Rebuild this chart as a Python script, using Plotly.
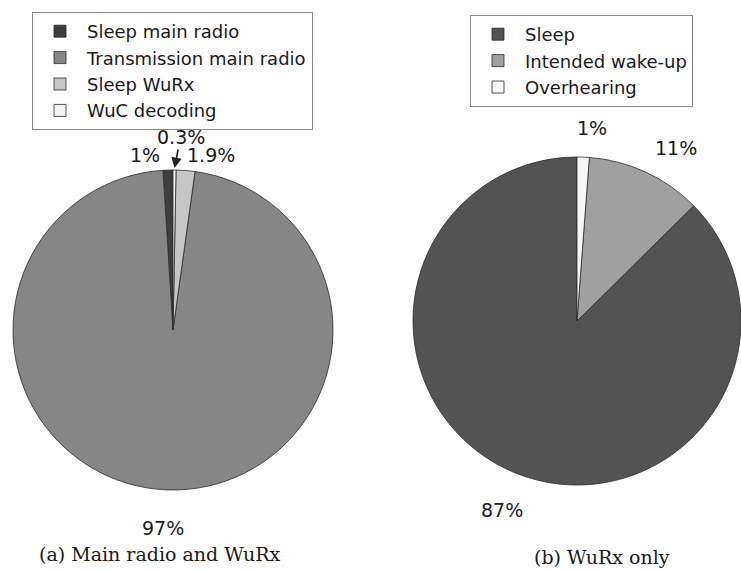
import math
import plotly.graph_objects as go

# ---------------- data ----------------
left_labels = ["Sleep main radio", "Transmission main radio", "Sleep WuRx", "WuC decoding"]
left_values = [1.0, 96.8, 1.9, 0.3]
left_text = ["1%", "97%", "1.9%", "0.3%"]

right_labels = ["Sleep", "Intended wake-up", "Overhearing"]
right_values = [87.4, 11.4, 1.2]
right_text = ["87%", "11%", "1%"]

captions = ["(a) Main radio and WuRx", "(b) WuRx only"]

# ---------------- style ----------------
W, H = 741, 571
left_colors = ["#3e3e3e", "#868686", "#c6c6c6", "#f4f4f4"]
right_colors = ["#535353", "#a0a0a0", "#f6f6f6"]
edge = dict(color="#2b2b2b", width=0.8)
sans = "DejaVu Sans, Verdana, sans-serif"
serif = "DejaVu Serif, serif"

# pie geometry in pixels (centre x, centre y, radius)
L = dict(cx=173, cy=330, r=160)
R = dict(cx=577, cy=321, r=164)


def px(x):
    return x / W


def py(y):
    return 1 - y / H


def label_pos(values, g, k=1.2):
    """MATLAB-like label anchor on the bisector of each slice, slices drawn
    counter-clockwise from 12 o'clock."""
    total = sum(values)
    cum = 0.0
    out = []
    for v in values:
        mid = (cum + v / 2) / total
        cum += v
        phi = 2 * math.pi * mid
        out.append((g["cx"] - k * g["r"] * math.sin(phi),
                    g["cy"] - k * g["r"] * math.cos(phi)))
    return out


def start_rotation(values):
    # plotly's counter-clockwise mode puts the first slice clockwise of the
    # rotation angle; shift so that the first slice starts at 12 o'clock
    return -360.0 * values[0] / sum(values)


fig = go.Figure()
fig.add_trace(go.Pie(
    labels=left_labels, values=left_values, sort=False,
    direction="counterclockwise", rotation=start_rotation(left_values),
    marker=dict(colors=left_colors, line=edge),
    textinfo="none", hoverinfo="label+percent",
    domain=dict(x=[px(L["cx"] - L["r"]), px(L["cx"] + L["r"])],
                y=[py(L["cy"] + L["r"]), py(L["cy"] - L["r"])]),
    legend="legend", showlegend=True,
))
fig.add_trace(go.Pie(
    labels=right_labels, values=right_values, sort=False,
    direction="counterclockwise", rotation=start_rotation(right_values),
    marker=dict(colors=right_colors, line=edge),
    textinfo="none", hoverinfo="label+percent",
    domain=dict(x=[px(R["cx"] - R["r"]), 1],
                y=[py(R["cy"] + R["r"]), py(R["cy"] - R["r"])]),
    legend="legend2", showlegend=True,
))

ann = []
lab_font = dict(family=sans, size=19, color="#1a1a1a")
centered = dict(xref="paper", yref="paper", xanchor="center", yanchor="middle")

# left pie labels
lpos = label_pos(left_values, L, 1.22)
tips = label_pos(left_values, L, 1.0)
nudges_left = {0: (-22, 20), 1: (-3, 3), 2: (23, 20)}
for i, t in enumerate(left_text):
    if i == 3:
        # tiny slice: label with an arrow pointing at the slice
        tx, ty = tips[i]
        ann.append(dict(x=px(tx), y=py(ty - 2), text=t, showarrow=True,
                        arrowhead=2, arrowsize=1.3, arrowwidth=1.6,
                        arrowcolor="#222", ax=6, ay=-31, font=lab_font,
                        **centered))
        continue
    x, y = lpos[i]
    dx, dy = nudges_left.get(i, (0, 0))
    ann.append(dict(x=px(x + dx), y=py(y + dy), text=t, showarrow=False,
                    font=lab_font, **centered))

# right pie labels
rpos = label_pos(right_values, R, 1.2)
nudges_right = {0: (1, 7), 1: (16, 6), 2: (8, 4)}
for i, t in enumerate(right_text):
    x, y = rpos[i]
    dx, dy = nudges_right.get(i, (0, 0))
    ann.append(dict(x=px(x + dx), y=py(y + dy), text=t, showarrow=False,
                    font=lab_font, **centered))

# sub-captions
cap_font = dict(family=serif, size=19, color="#1a1a1a")
ann.append(dict(x=px(160), y=py(554), text=captions[0], showarrow=False,
                font=cap_font, **centered))
ann.append(dict(x=px(602), y=py(557), text=captions[1], showarrow=False,
                font=cap_font, **centered))

leg_common = dict(bgcolor="white", bordercolor="#8a8a8a", borderwidth=1,
                  font=dict(family=sans, size=18, color="#1a1a1a"),
                  xanchor="left", yanchor="top", tracegroupgap=0,
                  itemwidth=44, itemclick=False, itemdoubleclick=False)

fig.update_layout(
    width=W, height=H,
    margin=dict(l=0, r=0, t=0, b=0),
    paper_bgcolor="white", plot_bgcolor="white",
    annotations=ann,
    legend=dict(x=px(32), y=py(12), **leg_common),
    legend2=dict(x=px(470), y=py(15), **leg_common),
)

fig.write_html(
    "out.html",
    config={"displayModeBar": False},
    post_script="document.body.style.margin='0px';"
                "document.documentElement.style.overflow='hidden';",
)
